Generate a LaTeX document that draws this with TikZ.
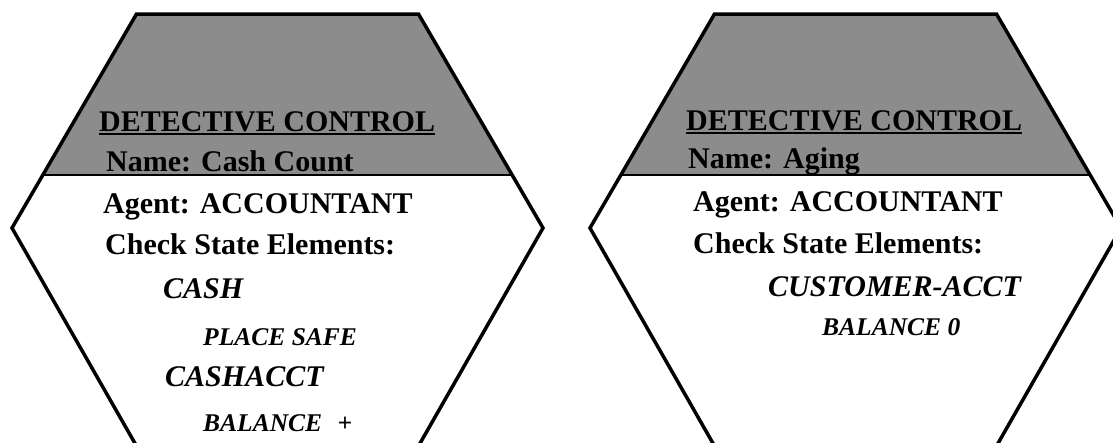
\documentclass[tikz,border=0pt]{standalone}
\usepackage{fontspec}
\setmainfont{Liberation Serif}
\begin{document}
\begin{tikzpicture}[x=1pt,y=-1pt,
  hexline/.style={line width=3.5pt, line join=miter},
  headfill/.style={fill=black!45},
  divider/.style={line width=1.5pt},
  lbl/.style={anchor=base west, inner sep=0pt, font=\fontsize{30}{36}\selectfont\bfseries},
  elem/.style={anchor=base west, inner sep=0pt, font=\fontsize{30}{36}\selectfont\bfseries\itshape},
  attr/.style={anchor=base west, inner sep=0pt, font=\fontsize{25.5}{30}\selectfont\bfseries\itshape},
  uline/.style={line width=2pt},
  % control hexagon: shaded header above the divider, white body below
  hexcell/.pic={
    \fill[white] (124.5,0) -- (406.5,0) -- (531,214) -- (406.5,432) -- (124.5,432) -- (0,214) -- cycle;
    \fill[headfill] (124.5,0) -- (406.5,0) -- (500.2,161) -- (30.8,161) -- cycle;
    \draw[divider] (30.8,161) -- (500.2,161);
    \draw[hexline] (124.5,0) -- (406.5,0) -- (531,214) -- (406.5,432) -- (124.5,432) -- (0,214) -- cycle;
  }
]
\clip (0,0) rectangle (1113,442);
\fill[white] (0,0) rectangle (1113,442);

% left control
\pic at (12,14) {hexcell};
\node[lbl] (l-title) at (99,131) {DETECTIVE CONTROL};
\draw[uline] ([yshift=-3pt]l-title.base west) -- ([yshift=-3pt]l-title.base east);
\node[lbl] (l-name) at (106,171) {Name: Cash Count};
\node[lbl] (l-agent) at (103,213) {Agent: ACCOUNTANT};
\node[lbl] (l-check) at (105,254) {Check State Elements:};
\node[elem] (l-cash) at (163,298) {CASH};
\node[attr] (l-place) at (203,345) {PLACE SAFE};
\node[elem] (l-acct) at (165,386) {CASHACCT};
\node[attr] (l-bal) at (203,431) {BALANCE\hspace{0.6em}+};

% right control
\pic at (590,14) {hexcell};
\node[lbl] (r-title) at (686,130) {DETECTIVE CONTROL};
\draw[uline] ([yshift=-3pt]r-title.base west) -- ([yshift=-3pt]r-title.base east);
\node[lbl] (r-name) at (688,168) {Name: Aging};
\node[lbl] (r-agent) at (693,211) {Agent: ACCOUNTANT};
\node[lbl] (r-check) at (693,253) {Check State Elements:};
\node[elem] (r-cust) at (768,296) {CUSTOMER-ACCT};
\node[attr] (r-bal) at (822,335) {BALANCE 0};
\end{tikzpicture}
\end{document}
